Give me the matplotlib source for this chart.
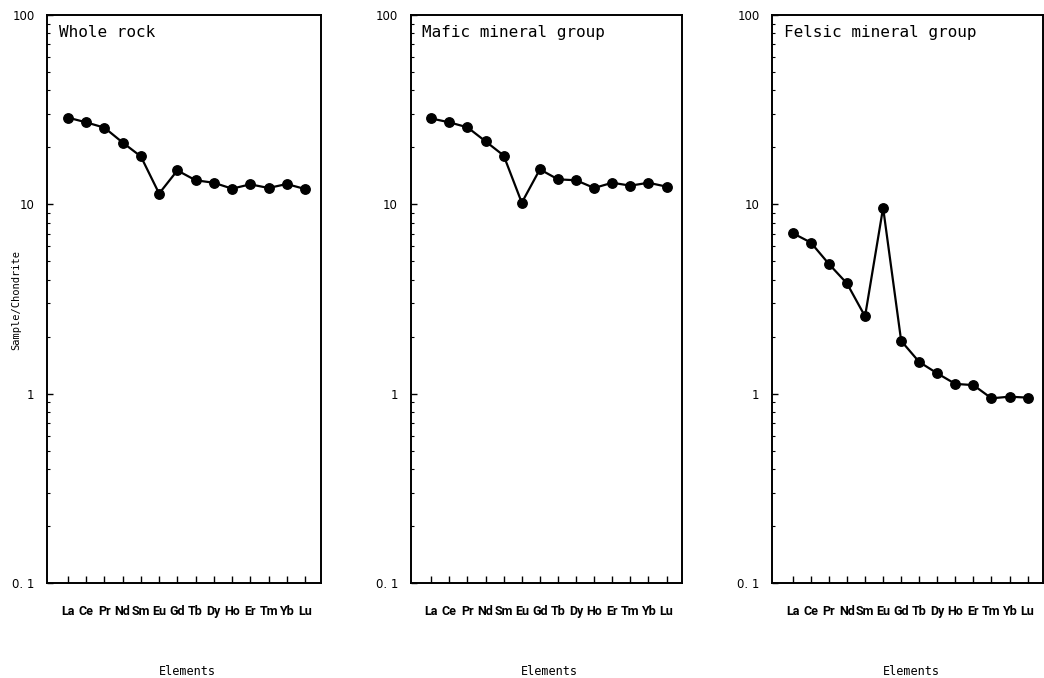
import matplotlib.pyplot as plt
from matplotlib.ticker import LogLocator, NullFormatter, FixedLocator

# REE patterns normalised to chondrite
elements = ["La", "Ce", "Pr", "Nd", "Sm", "Eu", "Gd",
            "Tb", "Dy", "Ho", "Er", "Tm", "Yb", "Lu"]

whole_rock = [28.7, 27.1, 25.4, 21.2, 17.9, 11.4, 15.1,
              13.4, 13.0, 12.1, 12.75, 12.2, 12.8, 12.05]
mafic_group = [28.4, 27.1, 25.5, 21.5, 18.1, 10.2, 15.3,
               13.55, 13.4, 12.2, 13.0, 12.55, 13.0, 12.4]
felsic_group = [7.04, 6.28, 4.84, 3.82, 2.56, 9.6, 1.90,
                1.47, 1.28, 1.126, 1.11, 0.945, 0.964, 0.953]

panel_titles = ["Whole rock", "Mafic mineral group", "Felsic mineral group"]
y_ticks = [0.1, 1, 10, 100]
y_tick_labels = ["0. 1", "1", "10", "100"]

mono = "DejaVu Sans Mono"

fig = plt.figure(figsize=(10.44, 6.78), dpi=100)
lefts = [0.0450, 0.3932, 0.7395]
widths = [0.2625, 0.2605, 0.2600]
bottom, height = 0.1401, 0.8378

for i, (series, title) in enumerate(zip([whole_rock, mafic_group, felsic_group],
                                        panel_titles)):
    ax = fig.add_axes([lefts[i], bottom, widths[i], height])
    x = list(range(len(elements)))
    ax.plot(x, series, color="black", lw=1.6, marker="o", ms=6.8,
            mfc="black", mec="black")
    ax.set_yscale("log")
    ax.set_ylim(0.1, 100)
    ax.set_xlim(-1.15, 13.88)

    ax.yaxis.set_major_locator(FixedLocator(y_ticks))
    ax.set_yticklabels(y_tick_labels, fontsize=8.5, family="DejaVu Sans")
    ax.yaxis.set_minor_locator(LogLocator(base=10, subs=range(2, 10)))
    ax.yaxis.set_minor_formatter(NullFormatter())
    ax.tick_params(axis="y", which="major", direction="in", length=4,
                   width=1, pad=9)
    ax.tick_params(axis="y", which="minor", direction="in", length=2.5,
                   width=0.8)

    ax.set_xticks(x)
    ax.set_xticklabels(elements, fontsize=9, family="Roboto",
                       fontweight="bold")
    ax.tick_params(axis="x", direction="in", length=5, width=1, pad=16)

    for sp in ax.spines.values():
        sp.set_linewidth(1.4)

    ax.text(0.044, 0.982, title, transform=ax.transAxes, fontsize=11.5,
            family=mono, ha="left", va="top")
    # axis title sits well below the element names
    fig.text(lefts[i] + widths[i] / 2 + 0.003, 0.0103, "Elements",
             fontsize=8.5, family=mono, ha="center", va="center")

fig.text(0.0155, 0.558, "Sample/Chondrite", rotation=90, fontsize=7.5,
         family=mono, ha="center", va="center")

fig.savefig("out.png", dpi=100)
